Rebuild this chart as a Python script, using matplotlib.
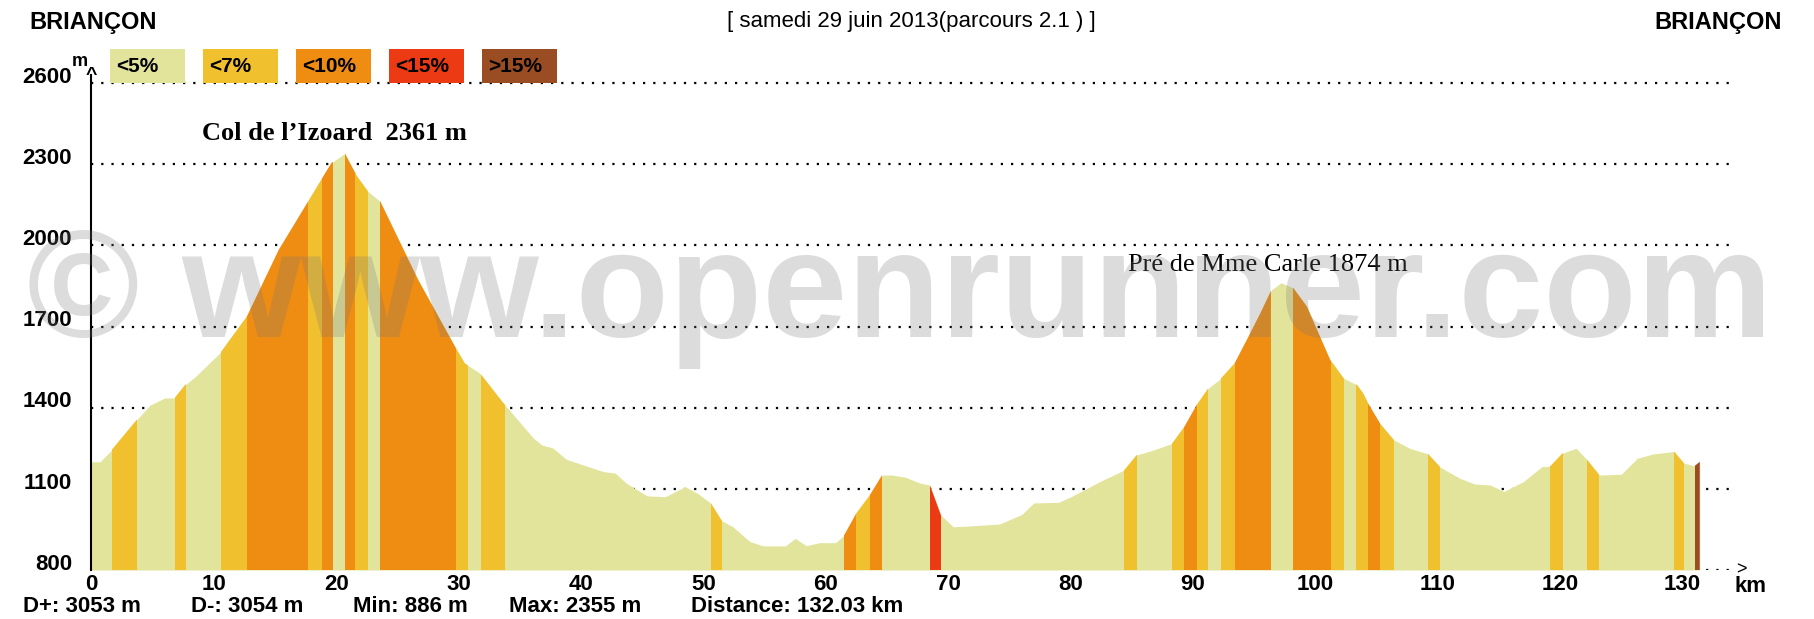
import matplotlib
matplotlib.use("Agg")
import matplotlib.pyplot as plt
import matplotlib.transforms as mtrans
from matplotlib.patches import Rectangle
import numpy as np

# elevation profile (km, m)
km = [0, 0.7, 1.66, 3.7, 4.8, 6.0, 6.8, 7.65, 8.5, 10.6, 12.7, 15.3, 17.7, 19.6, 20.7,
      21.7, 22.6, 23.6, 26.7, 29.7, 30.5, 31.75, 33.6, 35.3, 36.1, 36.8, 37.7, 38.8,
      40.2, 41.8, 42.8, 43.7, 45.4, 46.9, 48.5, 49.5, 50.6, 51.5, 52.4, 53.8, 54.9,
      56.7, 57.5, 58.4, 59.5, 60.8, 61.5, 62.5, 63.6, 64.6, 65.4, 66.5, 67.7, 68.5,
      69.4, 70.4, 71.5, 74.2, 76.0, 77.0, 79.0, 80.0, 82.4, 84.4, 85.4, 86.8, 88.3,
      89.3, 90.3, 91.25, 92.3, 93.4, 94.4, 95.5, 96.4, 97.2, 98.2, 99.3, 101.2, 102.3,
      103.4, 103.9, 104.3, 105.3, 106.4, 107.7, 109.2, 110.2, 111.8, 113.0, 114.3,
      115.4, 117.0, 118.5, 119.2, 120.2, 121.3, 122.2, 123.2, 125.0, 126.3, 127.6,
      129.3, 130.1, 131.0, 131.4]
elev = [1200, 1200, 1244, 1355, 1410, 1436, 1436, 1484, 1515, 1607, 1737, 1983, 2162, 2304, 2340,
        2255, 2199, 2162, 1872, 1626, 1564, 1527, 1420, 1330, 1288, 1262, 1251, 1209,
        1188, 1164, 1158, 1121, 1074, 1071, 1108, 1084, 1047, 982, 960, 905, 889,
        889, 917, 890, 901, 901, 929, 1010, 1077, 1151, 1151, 1143, 1121, 1114,
        1003, 960, 962, 970, 1005, 1048, 1050, 1070, 1127, 1170, 1225, 1244, 1268,
        1330, 1410, 1472, 1509, 1564, 1651, 1749, 1835, 1862, 1842, 1774, 1577, 1509,
        1484, 1453, 1416, 1340, 1281, 1250, 1229, 1180, 1139, 1118, 1114,
        1090, 1127, 1182, 1184, 1232, 1250, 1207, 1151, 1154, 1213, 1229,
        1238, 1195, 1185, 1200]

# gradient bands: start km, end km, class index (0 = <5% is the base colour)
band_start = [1.7, 6.8, 10.6, 12.7, 17.7, 18.8, 20.7, 21.5, 23.6, 29.8, 31.8,
              50.6, 61.5, 62.5, 63.6, 68.5,
              84.4, 88.3, 89.3, 90.3, 92.3, 93.4, 98.2, 101.3, 103.3, 104.3, 105.3,
              109.2, 119.2, 122.2, 129.3, 131.0]
band_end = [3.7, 7.7, 12.7, 17.7, 18.8, 19.7, 21.5, 22.6, 29.8, 30.8, 33.8,
            51.5, 62.5, 63.6, 64.6, 69.4,
            85.4, 89.3, 90.3, 91.25, 93.4, 96.4, 101.3, 102.3, 104.3, 105.3, 106.4,
            110.2, 120.2, 123.2, 130.1, 131.45]
band_cls = [1, 1, 1, 2, 1, 2, 2, 1, 2, 1, 1,
            1, 2, 1, 2, 3,
            1, 1, 2, 1, 1, 2, 2, 1, 1, 2, 1,
            1, 1, 1, 1, 4]

legend_labels = ['<5%', '<7%', '<10%', '<15%', '>15%']
colors = ['#e3e49b', '#f1c02f', '#ef8c12', '#ec3a14', '#9a4c22']

yticks = [800, 1100, 1400, 1700, 2000, 2300, 2600]
xticks = [0, 10, 20, 30, 40, 50, 60, 70, 80, 90, 100, 110, 120, 130]

stats = ['D+: 3053 m', 'D-: 3054 m', 'Min: 886 m', 'Max: 2355 m', 'Distance: 132.03 km']
stats_x = [23, 191, 353, 509, 691]

W, H = 1814, 619
FONT = 'Liberation Sans'


def fx(x):
    return x / W


def fy(y):
    return 1 - y / H


fig = plt.figure(figsize=(W / 100, H / 100), dpi=100)
ax = fig.add_axes([fx(91.4), fy(570), 1713.6 / W, 500.5 / H])
ax.set_xlim(0, 140)
ax.set_ylim(800, 2650)
for s in ax.spines.values():
    s.set_visible(False)

# dotted grid lines
for v in yticks:
    ax.plot([0, 134.4], [v, v], color='black', lw=1.6, ls=(0, (1, 3.6)), zorder=1)

prof = ax.fill_between(km, elev, 800, color=colors[0], lw=0, zorder=2)
clip = prof.get_paths()[0]
for s, e, c in zip(band_start, band_end, band_cls):
    span = ax.axvspan(s, e, color=colors[c], lw=0, zorder=3)
    span.set_clip_path(clip, transform=ax.transData)

# vertical axis with arrow
ax.plot([0, 0], [800, 2630], color='black', lw=1.5, zorder=5, clip_on=False)
ax.text(0, 2628, '^', ha='center', va='center', fontsize=14, fontweight='bold',
        family=FONT, clip_on=False)
ax.text(134.8, 800, '>', ha='center', va='center', fontsize=13, family=FONT)

ax.set_xticks(xticks)
ax.set_xticklabels([str(t) for t in xticks], fontsize=16, fontweight='bold', family=FONT)
ax.set_yticks(yticks)
ax.set_yticklabels([str(t) for t in yticks], fontsize=16, fontweight='bold', family=FONT)
ax.tick_params(length=0)
ax.tick_params(axis='x', pad=3)
ax.tick_params(axis='y', pad=14)
offset = mtrans.ScaledTranslation(0, 6 / 72, fig.dpi_scale_trans)
for lab in ax.get_yticklabels():
    lab.set_transform(lab.get_transform() + offset)

fig.text(fx(80), fy(62), 'm', fontsize=13, fontweight='bold', family=FONT,
         ha='center', va='center')
fig.text(fx(1750), fy(587), 'km', fontsize=16, fontweight='bold', family=FONT,
         ha='center', va='center')

# headers
fig.text(fx(29), fy(22), 'BRIANÇON', fontsize=17, fontweight='bold', family=FONT,
         ha='left', va='center')
fig.text(fx(1782), fy(22), 'BRIANÇON', fontsize=17, fontweight='bold', family=FONT,
         ha='right', va='center')
fig.text(fx(911), fy(22), '[ samedi 29 juin 2013(parcours 2.1 ) ]', fontsize=16,
         family=FONT, ha='center', va='center')

# legend boxes
box_x = [110, 203, 296, 389, 482]
for bx, lab, c in zip(box_x, legend_labels, colors):
    fig.add_artist(Rectangle((fx(bx), fy(83)), 75 / W, 34 / H, transform=fig.transFigure,
                             color=c, lw=0))
    fig.text(fx(bx + 6), fy(67), lab, fontsize=15, fontweight='bold', family=FONT,
             ha='left', va='center')

# summits
fig.text(fx(334), fy(134), 'Col de l\u2019Izoard  2361 m', fontsize=19, fontweight='bold',
         family='Liberation Serif', ha='center', va='center')
fig.text(fx(1268), fy(265), 'Pré de Mme Carle 1874 m', fontsize=19,
         family='Liberation Serif', ha='center', va='center')

# stats line
for t, x in zip(stats, stats_x):
    fig.text(fx(x), fy(606), t, fontsize=16, fontweight='bold', family=FONT,
             ha='left', va='center')

# watermark
fig.text(fx(900), fy(298), '\u00a9 www.openrunner.com', fontsize=110, fontweight='bold',
         family=FONT, color='#7a7a7a', alpha=0.26, ha='center', va='center', zorder=10)

fig.savefig('out.png', dpi=100)
